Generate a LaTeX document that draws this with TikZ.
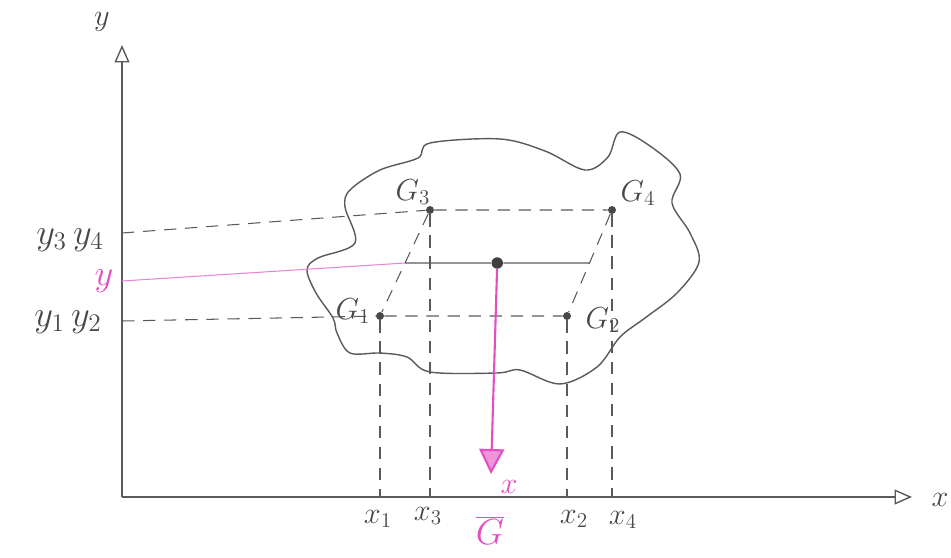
\documentclass[tikz,border=0pt]{standalone}
\usetikzlibrary{arrows.meta, calc}
\definecolor{sketchGray}{HTML}{5A5A5A}
\definecolor{sketchPink}{HTML}{E24FC4}
\tikzset{
  axisline/.style={-{Triangle[open, length=3.5mm, width=3mm]}, sketchGray, thick},
  guide/.style={sketchGray, dash pattern=on 7pt off 5pt, semithick},
  pinkguide/.style={sketchPink!70, semithick},
  pinkarrow/.style={-{Triangle[length=5mm, width=5mm, fill=sketchPink!60]}, sketchPink, very thick},
  blob/.style={sketchGray, thick},
  dotpt/.style={circle, fill=sketchGray!80!black, inner sep=1.6pt},
  bigdot/.style={circle, fill=sketchGray!70!black, inner sep=2.3pt},
  glabel/.style={text=sketchGray!80!black, font=\LARGE},
  ylabel/.style={text=sketchGray!80!black, font=\huge},
  xlabel/.style={text=sketchGray!80!black, font=\LARGE},
}
\begin{document}
\begin{tikzpicture}[x=0.02cm, y=-0.02cm]
    \useasboundingbox (0,0) rectangle (951,558);

    % ejes
    \coordinate (o) at (122,497);
    \coordinate (ytip) at (122,45);
    \coordinate (xtip) at (912,497);
    \draw[axisline] (o) -- (ytip);
    \draw[axisline] (o) -- (xtip);
    \node[xlabel] (ylab) at (102,22) {$y$};
    \node[xlabel] (xlab) at (940,500) {$x$};

    % contorno del cuerpo
    \draw[blob] plot[smooth cycle, tension=0.55] coordinates {
      (430,143) (500,139) (545,151) (585,170) (608,157) (620,132)
      (650,146) (680,174) (672,203) (690,233) (699,262) (677,293)
      (645,318) (620,337) (597,367) (560,384) (520,370) (497,373)
      (430,372) (407,357) (380,353) (350,353) (337,333) (333,318)
      (316,293) (307,270) (318,258) (355,243) (345,207) (350,190)
      (380,170) (418,158)};

    % centros de gravedad parciales
    \node[dotpt] (g1) at (380,316) {};
    \node[dotpt] (g2) at (567,316) {};
    \node[dotpt] (g3) at (430,210) {};
    \node[dotpt] (g4) at (612,210) {};
    \coordinate (m13) at ($(g3)!0.5!(g1)$);
    \coordinate (m24) at ($(g4)!0.5!(g2)$);
    \node[bigdot] (gc) at ($(m13)!0.5!(m24)$) {};
    \node[glabel] (lg1) at (353,311) {$G_1$};
    \node[glabel] (lg2) at (603,320) {$G_2$};
    \node[glabel] (lg3) at (413,192) {$G_3$};
    \node[glabel] (lg4) at (638,193) {$G_4$};

    % proyecciones sobre el eje y
    \coordinate (y34) at (122,233);
    \coordinate (y12) at (122,321);
    \coordinate (yg) at (122,281);
    \draw[guide] (y34) -- (g3) -- (g4);
    \draw[guide] (y12) -- (g1) -- (g2);
    \draw[guide] (g3) -- (g1);
    \draw[guide] (g4) -- (g2);
    \draw[pinkguide] (yg) -- (m13);
    \draw[sketchGray, semithick] (m13) -- (gc) -- (m24);
    \node[ylabel] (ly34) at (70,240) {$y_3\,y_4$};
    \node[ylabel, text=sketchPink] (lyg) at (104,281) {$y$};
    \node[ylabel] (ly12) at (68,322) {$y_1\,y_2$};

    % proyecciones sobre el eje x
    \coordinate (x1) at (o -| g1);
    \coordinate (x2) at (o -| g2);
    \coordinate (x3) at (o -| g3);
    \coordinate (x4) at (o -| g4);
    \draw[guide] (g1) -- (x1);
    \draw[guide] (g2) -- (x2);
    \draw[guide] (g3) -- (x3);
    \draw[guide] (g4) -- (x4);
    \node[xlabel] (lx1) at (378,519) {$x_1$};
    \node[xlabel] (lx3) at (428,516) {$x_3$};
    \node[xlabel] (lx2) at (574,519) {$x_2$};
    \node[xlabel] (lx4) at (623,520) {$x_4$};

    % peso y centro de gravedad
    \coordinate (gfoot) at (491,474);
    \draw[pinkarrow] (gc) -- (gfoot);
    \node[xlabel, text=sketchPink] (lxg) at (509,487) {$x$};
    \node[ylabel, text=sketchPink] (lgg) at (490,530) {$\overline{G}$};
  \end{tikzpicture}
\end{document}
